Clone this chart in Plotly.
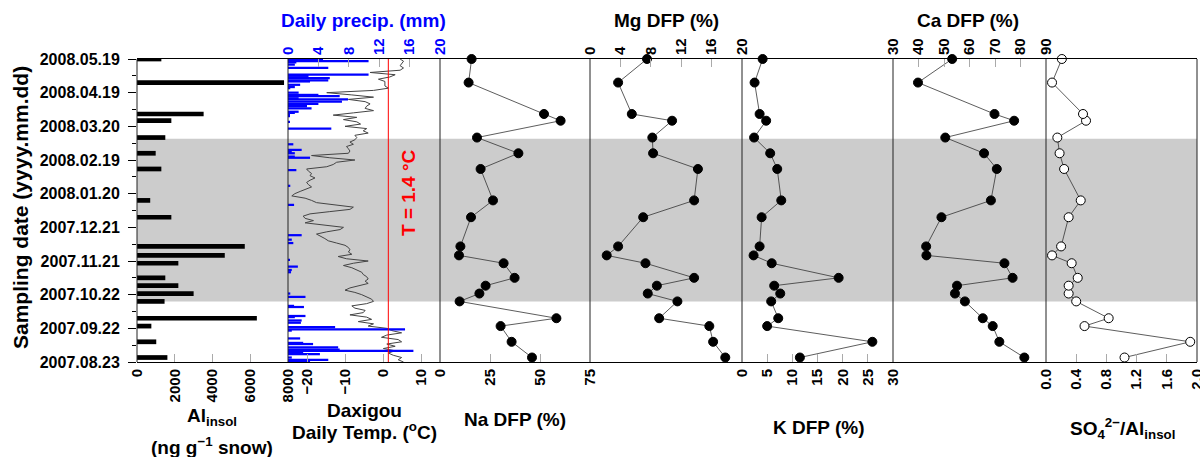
import plotly.graph_objects as go
import pandas as pd

W, H = 1200, 457
FONT = "Liberation Sans, Arial, sans-serif"

# ---------------- data ----------------
sample_dates = ["2007-08-27", "2007-09-10", "2007-09-24", "2007-10-01", "2007-10-16",
                "2007-10-23", "2007-10-30", "2007-11-06", "2007-11-19", "2007-11-26",
                "2007-12-04", "2007-12-30", "2008-01-14", "2008-02-11", "2008-02-25",
                "2008-03-10", "2008-03-25", "2008-03-31", "2008-04-28", "2008-05-19"]
al_insol = [1610, 1020, 760, 6350, 1460, 3000, 2190, 1500, 2190, 4650,
            5710, 1820, 700, 1290, 990, 1500, 1820, 3530, 7790, 1290]
na_dfp = [46, 35.8, 30.3, 58.2, 9.8, 19.7, 22.8, 37.3, 31.8, 9.5,
          10.2, 15.5, 26.5, 20.3, 39.2, 18.5, 60.3, 52, 14.3, 15.8]
mg_dfp = [17.8, 16.2, 15.7, 9.1, 11.5, 7.6, 8.8, 13.7, 7.3, 2.2,
          3.7, 7.0, 13.7, 14.2, 8.3, 8.2, 10.8, 5.5, 3.7, 7.5]
k_dfp = [11.5, 25.9, 5.0, 7.2, 5.8, 7.6, 6.4, 19.2, 5.9, 2.3,
         3.5, 3.9, 7.8, 7.0, 5.6, 2.4, 4.8, 3.5, 2.5, 4.1]
ca_dfp = [81.5, 71.7, 69.1, 65.2, 58.2, 54.3, 55.1, 76.9, 73.7, 43.1,
          43.0, 49.0, 68.4, 70.7, 65.7, 50.5, 77.5, 69.8, 39.8, 53.2]
so4_al = [1.04, 1.91, 0.51, 0.83, 0.40, 0.30, 0.30, 0.42, 0.34, 0.08,
          0.20, 0.30, 0.46, 0.24, 0.18, 0.15, 0.53, 0.49, 0.08, 0.21]

# Daxigou air temperature, read every second day from 2007-08-23
daily_temp = [5.4, 4.0, 4.9, 2.7, 1.4, 3.2, 0.1, 3.2, 1.0, 4.9,
              4.0, -0.4, 1.0, 4.9, 2.3, 1.0, -3.9, -2.5, -6.5, -3.0,
              -4.3, -8.7, -5.2, -4.7, -7.4, -8.2, -4.3, -2.5, -3.0, -4.3,
              -5.6, -7.4, -10.0, -8.7, -5.9, -3.9, -4.7, -3.9, -4.3, -5.2,
              -5.6, -6.9, -8.2, -10.4, -7.8, -3.9, -9.6, -11.8, -8.2, -9.1,
              -8.7, -9.1, -10.0, -12.2, -14.4, -15.3, -16.6, -17.5, -14.8, -11.3,
              -10.4, -14.8, -20.5, -18.3, -20.5, -21.0, -19.2, -14.0, -8.7, -7.8,
              -12.2, -17.5, -18.8, -20.5, -24.0, -23.2, -21.8, -20.5, -18.8, -19.6,
              -20.1, -19.2, -17.9, -19.2, -18.8, -19.6, -20.1, -14.8, -13.1, -12.2,
              -7.4, -14.0, -18.8, -9.1, -8.7, -9.1, -9.6, -7.8, -8.7, -7.4,
              -6.9, -7.4, -3.9, -5.2, -4.3, -10.0, -5.9, -6.9, -10.4, -6.9,
              -13.1, -7.8, -2.5, -4.7, -4.3, -3.4, -4.7, -9.1, -2.5, -8.2,
              -14.8, -2.5, 1.4, 0.5, 0.5, 0.5, -1.2, 1.8, 3.2, -3.4,
              4.5, 5.4, 4.5, 4.9, 5.4, 4.5]
temp_dates = pd.date_range("2007-08-23", periods=len(daily_temp), freq="2D")

precip_dates = ["2007-08-24", "2007-08-25", "2007-08-27", "2007-08-30", "2007-08-31",
                "2007-09-02", "2007-09-03", "2007-09-05", "2007-09-08", "2007-09-09",
                "2007-09-13", "2007-09-20", "2007-09-21", "2007-09-23", "2007-09-27",
                "2007-09-29", "2007-10-02", "2007-10-03", "2007-10-11", "2007-10-12",
                "2007-10-20", "2007-10-23", "2007-11-11", "2007-11-13", "2007-11-16",
                "2007-11-22", "2007-12-07", "2007-12-10", "2007-12-14", "2008-01-10",
                "2008-01-27", "2008-02-10", "2008-02-21", "2008-02-22", "2008-02-25",
                "2008-02-26", "2008-02-28", "2008-03-04", "2008-03-18", "2008-03-24",
                "2008-03-29", "2008-03-30", "2008-04-01", "2008-04-02", "2008-04-05",
                "2008-04-07", "2008-04-09", "2008-04-11", "2008-04-13", "2008-04-14",
                "2008-04-16", "2008-04-17", "2008-04-19", "2008-04-23", "2008-04-24",
                "2008-04-26", "2008-04-29", "2008-04-30", "2008-05-02", "2008-05-04",
                "2008-05-05", "2008-05-11", "2008-05-14", "2008-05-16", "2008-05-17",
                "2008-05-18", "2008-05-19"]
precip_mm = [2.9, 5.3, 0.5, 4.2, 2.0,
             16.5, 6.8, 6.6, 3.3, 2.0,
             1.6, 0.5, 15.4, 6.2, 1.7,
             1.8, 0.9, 2.3, 2.1, 0.8,
             2.3, 0.3, 0.4, 0.5, 1.3,
             0.2, 0.7, 0.5, 1.8, 0.8,
             0.3, 1.1, 2.9, 0.9, 0.9,
             0.5, 1.8, 0.7, 5.7, 0.2,
             0.2, 0.2, 0.9, 1.4, 3.1,
             2.5, 4.0, 7.1, 7.9, 1.4,
             6.8, 4.0, 1.4, 0.3, 0.9,
             1.6, 2.9, 5.3, 5.5, 2.7,
             10.6, 5.3, 0.9, 1.1, 10.6,
             4.6, 4.6]

threshold_temp = 1.4
warm_period = ("2007-10-16", "2008-03-09")

date_ticks = ["2007-08-23", "2007-09-22", "2007-10-22", "2007-11-21", "2007-12-21",
              "2008-01-20", "2008-02-19", "2008-03-20", "2008-04-19", "2008-05-19"]
minor_date_ticks = ["2007-09-07", "2007-10-07", "2007-11-06", "2007-12-06", "2008-01-05",
                    "2008-02-04", "2008-03-05", "2008-04-04", "2008-05-04"]

al_ticks = [0, 2000, 4000, 6000, 8000]
temp_ticks = [-20, -10, 0, 10]
precip_ticks = [0, 4, 8, 12, 16, 20]
na_ticks = [0, 25, 50, 75]
mg_ticks = [0, 4, 8, 12, 16, 20]
k_ticks = [0, 5, 10, 15, 20, 25, 30]
ca_ticks = [30, 40, 50, 60, 70, 80, 90]
so4_ticks = [0.0, 0.4, 0.8, 1.2, 1.6, 2.0]

# ---------------- layout geometry (pixels) ----------------
PX = [137, 288, 440, 590, 742, 893, 1046, 1197]
TOP, BOT = 59, 362
DAY_MS = 86400000


def fx(p):
    return p / W


def fy(p):
    return 1 - p / H


def xax(i, rng, tickvals, side="bottom", color="black", overlaying=None, tickformat=None):
    d = dict(range=rng, tickvals=tickvals, side=side, anchor="y",
             ticks="inside", ticklen=8, tickwidth=1, tickcolor="#aaaaaa",
             tickangle=-90, automargin=False, ticklabeloverflow="allow",
             tickfont=dict(size=15, color=color, family=FONT, weight="bold"),
             showgrid=False, zeroline=False, showline=True, linecolor="black",
             linewidth=1, mirror=True, fixedrange=True)
    if overlaying:
        d["overlaying"] = overlaying
    else:
        d["domain"] = [fx(PX[i]), fx(PX[i + 1])]
    if tickformat:
        d["tickformat"] = tickformat
    return d


fig = go.Figure()

# Al insol bars
fig.add_trace(go.Bar(x=al_insol, y=sample_dates, orientation="h", xaxis="x", yaxis="y",
                     marker=dict(color="black", line=dict(width=0)), width=4.2 * DAY_MS))
# temperature
fig.add_trace(go.Scatter(x=daily_temp, y=temp_dates, xaxis="x2", yaxis="y", mode="lines",
                         line=dict(color="#444444", width=1)))
# precipitation
fig.add_trace(go.Bar(x=precip_mm, y=precip_dates, orientation="h", xaxis="x3", yaxis="y",
                     marker=dict(color="#0000ff", line=dict(width=0)), width=2.0 * DAY_MS))

dot = dict(color="black", size=9, line=dict(color="black", width=1))
ln = dict(color="#333333", width=0.8)
for vals, ax in [(na_dfp, "x4"), (mg_dfp, "x5"), (k_dfp, "x6"), (ca_dfp, "x7")]:
    fig.add_trace(go.Scatter(x=vals, y=sample_dates, xaxis=ax, yaxis="y", mode="lines+markers",
                             marker=dot, line=ln, cliponaxis=False))
fig.add_trace(go.Scatter(x=so4_al, y=sample_dates, xaxis="x8", yaxis="y", mode="lines+markers",
                         marker=dict(color="white", size=9, line=dict(color="black", width=1)),
                         line=ln, cliponaxis=False))

shapes = [
    dict(type="rect", xref="paper", yref="y", x0=fx(PX[0]), x1=fx(PX[-1]),
         y0=warm_period[0], y1=warm_period[1], fillcolor="#cccccc",
         line=dict(width=0), layer="below"),
    dict(type="line", xref="x2", yref="paper", x0=threshold_temp, x1=threshold_temp,
         y0=fy(BOT), y1=fy(TOP), line=dict(color="red", width=1), layer="above"),
]
for p in PX:
    shapes.append(dict(type="line", xref="paper", yref="paper", x0=fx(p), x1=fx(p),
                       y0=fy(BOT), y1=fy(TOP), line=dict(color="#222222", width=1), layer="above"))


def ann(text, x, y, size=19, color="black", angle=0):
    return dict(text=text, x=fx(x), y=fy(y), xref="paper", yref="paper", showarrow=False,
                xanchor="center", yanchor="middle", textangle=angle,
                font=dict(size=size, color=color, family=FONT, weight="bold"))


annotations = [
    ann("Daily precip. (mm)", 363, 20, color="#0000ff"),
    ann("Mg DFP (%)", 666, 21),
    ann("Ca DFP (%)", 968, 21),
    ann("Al<sub>insol</sub>", 212, 417),
    ann("(ng g<sup>−1</sup> snow)", 212, 446),
    ann("Daxigou", 364, 410),
    ann("Daily Temp. (<sup>o</sup>C)", 364, 431),
    ann("Na DFP (%)", 515, 419),
    ann("K DFP (%)", 818, 427),
    ann("SO<sub>4</sub><sup>2−</sup>/Al<sub>insol</sub>", 1122, 428),
    ann("Sampling date (yyyy.mm.dd)", 20, 208, size=21, angle=-90),
    ann("T = 1.4 °C", 408, 193, size=19, color="red", angle=-90),
]

fig.update_layout(
    width=W, height=H, margin=dict(l=0, r=0, t=0, b=0, autoexpand=False),
    paper_bgcolor="white", plot_bgcolor="rgba(0,0,0,0)",
    showlegend=False, barmode="overlay",
    font=dict(family=FONT, color="black"),
    xaxis=xax(0, [0, 8000], al_ticks),
    xaxis2=xax(1, [-25, 15], temp_ticks),
    xaxis3=xax(1, [0, 20], precip_ticks, side="top", color="#0000ff", overlaying="x2"),
    xaxis4=xax(2, [0, 75], na_ticks),
    xaxis5=xax(3, [0, 20], mg_ticks, side="top"),
    xaxis6=xax(4, [0, 30], k_ticks),
    xaxis7=xax(5, [30, 90], ca_ticks, side="top"),
    xaxis8=xax(6, [0, 2], so4_ticks, tickformat=".1f"),
    yaxis=dict(type="date", domain=[fy(BOT), fy(TOP)], anchor="x", automargin=False,
               range=[date_ticks[0], date_ticks[-1]], tickvals=date_ticks,
               tickformat="%Y.%m.%d", ticks="outside", ticklen=8, tickwidth=1,
               tickcolor="black", ticklabelstandoff=5,
               minor=dict(tickvals=minor_date_ticks, ticks="outside", ticklen=4,
                          tickcolor="black", tickwidth=1),
               tickfont=dict(size=16, family=FONT, color="black", weight="bold"),
               showgrid=False, zeroline=False, showline=False, fixedrange=True),
    shapes=shapes, annotations=annotations,
)

fig.write_html("out.html", config={"displayModeBar": False},
               post_script="document.body.style.margin='0px';document.body.style.overflow='hidden';")
